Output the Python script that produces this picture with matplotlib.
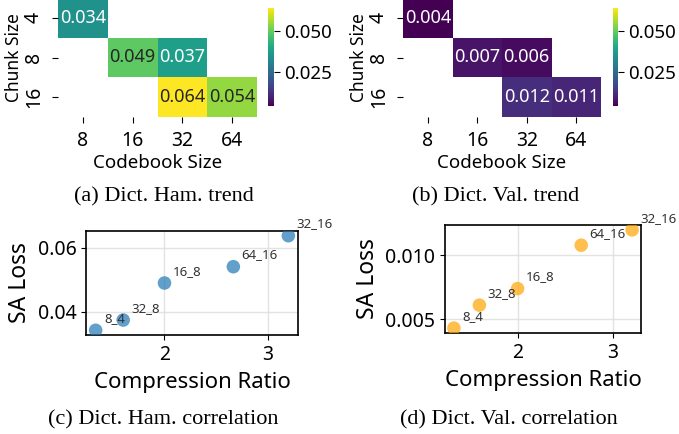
import matplotlib
matplotlib.use("Agg")
import matplotlib.pyplot as plt
import numpy as np
import seaborn as sns

# configs are codebook_chunk
configs = ["8_4", "32_8", "16_8", "64_16", "32_16"]
codebook = [8, 32, 16, 64, 32]
chunk = [4, 8, 8, 16, 16]
comp_ratio = [1.333, 1.6, 2.0, 2.667, 3.2]
ham_loss = [0.0342, 0.0374, 0.0490, 0.0541, 0.0638]
val_loss = [0.0043, 0.0061, 0.0074, 0.0108, 0.0120]

codebook_sizes = [8, 16, 32, 64]
chunk_sizes = [4, 8, 16]

plt.rcParams["font.family"] = ["Noto Sans", "DejaVu Sans"]

W, H = 679, 434


def box(x0, y0, x1, y1):
    return [x0 / W, 1 - y1 / H, (x1 - x0) / W, (y1 - y0) / H]


def grid(vals):
    m = np.full((len(chunk_sizes), len(codebook_sizes)), np.nan)
    for cb, ch, v in zip(codebook, chunk, vals):
        m[chunk_sizes.index(ch), codebook_sizes.index(cb)] = v
    return m


vmin = min(val_loss + ham_loss)
vmax = max(val_loss + ham_loss)

fig = plt.figure(figsize=(W / 100, H / 100), dpi=100)

heat_boxes = [((58, -2, 257, 117), (268, 8, 274, 106)),
              ((403, -2, 601, 117), (613, 8, 618, 106))]
for vals, (hb, cb) in zip([ham_loss, val_loss], heat_boxes):
    ax = fig.add_axes(box(*hb))
    cax = fig.add_axes(box(*cb))
    sns.heatmap(grid(vals), ax=ax, cbar_ax=cax, cmap="viridis", vmin=vmin, vmax=vmax,
                annot=True, fmt=".3f", annot_kws={"fontsize": 13},
                xticklabels=codebook_sizes, yticklabels=chunk_sizes)
    ax.set_xlabel("Codebook Size", fontsize=13.5, labelpad=2)
    ax.set_ylabel("Chunk Size", fontsize=12.5, labelpad=0)
    ax.tick_params(axis="both", labelsize=14, length=4, pad=6)
    plt.setp(ax.get_yticklabels(), rotation=90, va="center")
    plt.setp(ax.get_xticklabels(), rotation=0)
    ax.yaxis.set_label_coords(-0.175, 0.5)
    cax.set_yticks([0.025, 0.050])
    cax.set_yticklabels(["0.025", "0.050"])
    cax.tick_params(labelsize=13.5, length=4)

scatter_boxes = [(86, 231, 298, 335), (445, 225, 641, 333)]
for vals, sb, col in zip([ham_loss, val_loss], scatter_boxes, ["tab:blue", "orange"]):
    ax = fig.add_axes(box(*sb))
    ax.scatter(comp_ratio, vals, s=95, color=col, alpha=0.7, edgecolors="none", zorder=3)
    for name, x, y in zip(configs, comp_ratio, vals):
        ax.annotate(name, (x, y), xytext=(6, 6), textcoords="offset points",
                    fontsize=9.5, color="#333333")
    ax.grid(True, color="#dddddd", linewidth=1, alpha=0.8)
    ax.set_xticks([2, 3])
    ax.tick_params(labelsize=14)
    ax.set_xlabel("Compression Ratio", fontsize=16, labelpad=5)
    ax.set_ylabel("SA Loss", fontsize=16.5)
    for s in ax.spines.values():
        s.set_linewidth(1.2)

captions = ["(a) Dict. Ham. trend", "(b) Dict. Val. trend",
            "(c) Dict. Ham. correlation", "(d) Dict. Val. correlation"]
cap_pos = [(164, 197), (496, 197), (163, 420), (509, 420)]
for t, (cx, cy) in zip(captions, cap_pos):
    fig.text(cx / W, 1 - cy / H, t, ha="center", va="center",
             family="Liberation Serif", fontsize=16)

fig.savefig("out.png", dpi=100)
